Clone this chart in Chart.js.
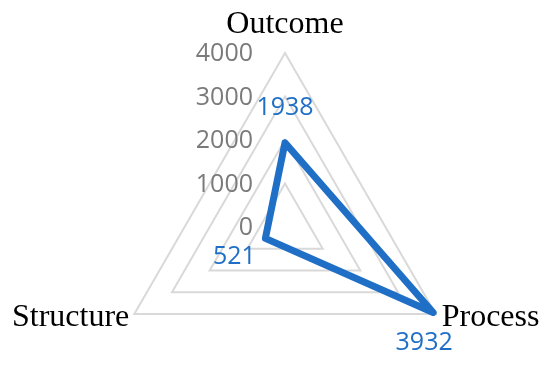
<!DOCTYPE html>
<html>
<head>
<meta charset="utf-8">
<script src="https://cdn.jsdelivr.net/npm/chart.js@4"></script>
<style>
  html, body { margin: 0; padding: 0; background: #fff; }
  #wrap { width: 550px; height: 365px; position: relative; }
</style>
</head>
<body>
<div id="wrap"><canvas id="c" width="550" height="365"></canvas></div>
<script>
const categories = ["Outcome", "Process", "Structure"];
const values = [1938, 3932, 521];
const tickValues = [0, 1000, 2000, 3000, 4000];
const tickLabels = ["0", "1000", "2000", "3000", "4000"];

const BLUE = "#1F6FC6";

const customText = {
  id: "customText",
  afterDatasetsDraw(chart) {
    const s = chart.scales.r;
    const ctx = chart.ctx;
    ctx.save();
    // tick labels, right aligned left of the vertical axis
    ctx.font = "25px 'Open Sans'";
    ctx.fillStyle = "#7A7A7A";
    ctx.textAlign = "right";
    ctx.textBaseline = "middle";
    tickValues.forEach((v, i) => {
      const d = s.getDistanceFromCenterForValue(v);
      ctx.fillText(tickLabels[i], s.xCenter - 32, s.yCenter - d + 1);
    });
    // point labels
    ctx.font = "32px 'Liberation Serif'";
    ctx.fillStyle = "#000";
    const outer = s.drawingArea;
    categories.forEach((c, i) => {
      const p = s.getPointPosition(i, outer);
      if (i === 0) {
        ctx.textAlign = "center"; ctx.textBaseline = "middle";
        ctx.fillText(c, p.x, p.y - 28);
      } else if (i === 1) {
        ctx.textAlign = "left"; ctx.textBaseline = "middle";
        ctx.fillText(c, p.x + 6, p.y + 4);
      } else {
        ctx.textAlign = "right"; ctx.textBaseline = "middle";
        ctx.fillText(c, p.x - 5, p.y + 4);
      }
    });
    // data labels
    ctx.font = "25px 'Open Sans'";
    ctx.fillStyle = BLUE;
    ctx.textAlign = "center";
    ctx.textBaseline = "middle";
    const offs = [[0, -35], [-9, 30], [-31, 19]];
    values.forEach((v, i) => {
      const p = s.getPointPositionForValue(i, v);
      ctx.fillText(String(v), p.x + offs[i][0], p.y + offs[i][1]);
    });
    ctx.restore();
  }
};

new Chart(document.getElementById("c"), {
  type: "radar",
  data: {
    labels: categories,
    datasets: [{
      data: values,
      borderColor: BLUE,
      borderWidth: 7,
      borderJoinStyle: "round",
      backgroundColor: "rgba(0,0,0,0)",
      fill: false,
      pointRadius: 0,
      pointHoverRadius: 0,
      tension: 0
    }]
  },
  options: {
    responsive: false,
    animation: false,
    events: [],
    plugins: { legend: { display: false }, tooltip: { enabled: false } },
    scales: {
      r: {
        min: 0,
        max: 4000,
        ticks: { stepSize: 1000, display: false },
        grid: { color: "#D9D9D9", lineWidth: 2 },
        angleLines: { display: false },
        pointLabels: { display: false },
        afterFit(scale) {
          scale.xCenter = 285;
          scale.yCenter = 227;
          scale.drawingArea = 174;
        }
      }
    }
  },
  plugins: [customText]
});
</script>
</body>
</html>
